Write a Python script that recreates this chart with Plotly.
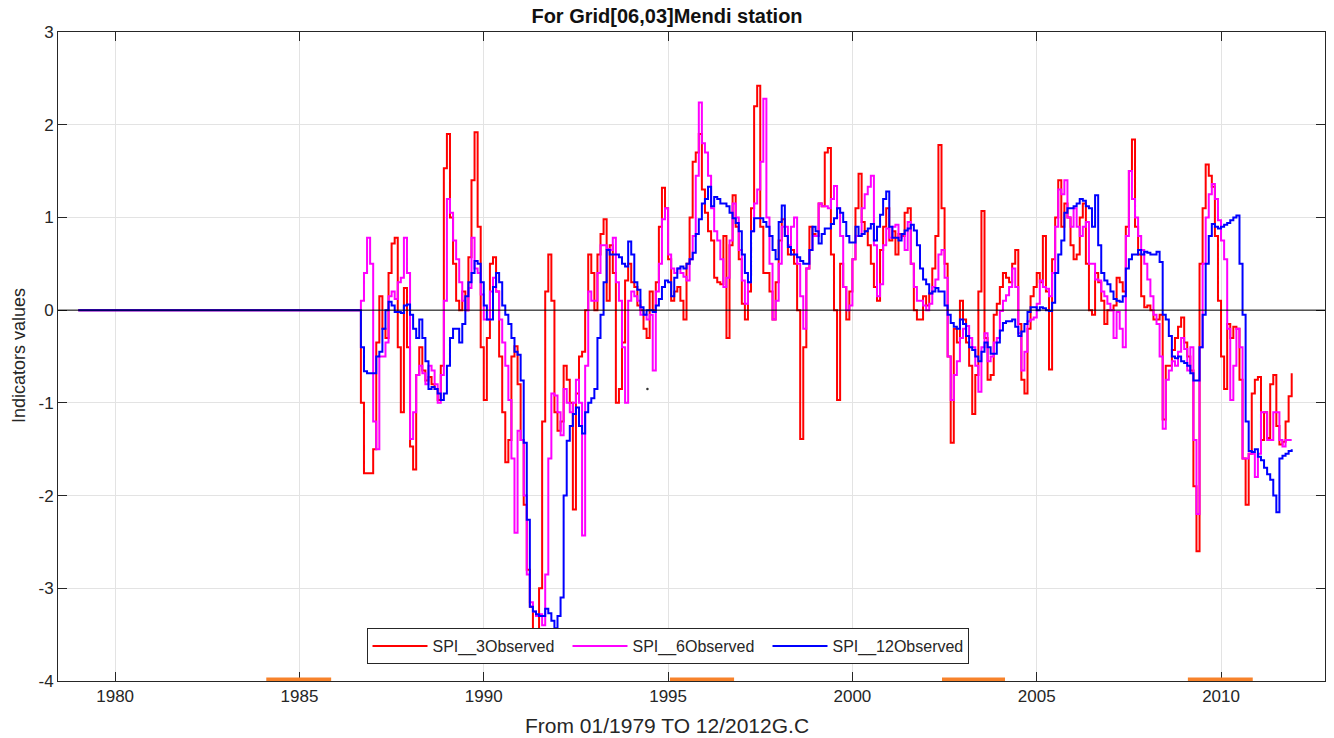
import plotly.graph_objects as go

# Monthly SPI series, Jan 1979 .. Dec 2011. The station record is flat (0)
# until Aug 1986; the lists below hold Sep 1986 onwards, one row per year.
FIRST_YEAR = 1979
FLAT_MONTHS = 92  # Jan 1979 .. Aug 1986

spi3 = [
    -1.0, -1.76, -1.76, -1.76,                                             # 1986 Sep-Dec
    -1.5, -0.35, 0.15, -0.2, -0.3, 0.4, 0.72, 0.78, -0.4, -1.1, 0.24, -0.4,      # 1987
    -1.47, -1.72, -0.7, -0.4, -0.65, -0.76, -0.72, -0.8, -0.85, -0.97, -0.6, 1.53,  # 1988
    1.9, 1.0, 0.5, 0.1, 0.0, 0.2, 0.0, 0.57, 1.4, 1.92, 0.9, -0.4,               # 1989
    -0.97, -0.3, 0.5, 0.57, 0.2, -0.5, -1.1, -1.64, -1.4, -0.5, -0.39, -0.8,     # 1990
    -1.4, -2.1, -2.8, -3.2, -3.5, -3.8, -3.0, -1.2, 0.2, 0.6, 0.1, -1.1,         # 1991
    -1.3, -1.2, -0.6, -0.75, -1.0, -2.15, -0.9, -0.5, -0.45, 0.0, 0.6, 0.4,      # 1992
    0.0, 0.6, 0.82, 0.98, 0.1, 0.7, 0.4, -1.0, -0.85, -0.35, 0.32, 0.5,          # 1993
    0.3, 0.25, 0.05, 0.0, -0.2, -0.3, 0.2, 0.0, 0.3, 0.9, 1.32, 1.1,             # 1994
    0.55, 0.1, 0.2, 0.25, 0.1, -0.1, 0.5, 1.0, 1.6, 1.7, 1.9, 1.3,               # 1995
    1.05, 0.85, 0.75, 0.35, 0.3, 0.28, 0.8, -0.3, 0.7, 1.24, 0.9, 0.55,          # 1996
    0.07, -0.1, 0.2, 1.1, 2.2, 2.42, 0.9, 0.4, 0.4, 0.2, -0.1, 0.3,              # 1997
    0.75, 0.98, 0.8, 0.6, 0.65, 0.5, 0.0, -1.39, -0.4, 0.45, 0.9, 0.82,          # 1998
    0.8, 1.15, 1.12, 1.7, 1.75, 0.6, 0.0, -0.97, 0.5, 0.25, -0.1, 0.2,           # 1999
    0.55, 1.1, 1.47, 0.95, 0.85, 0.7, 0.5, 0.25, 0.1, 0.65, 0.9, 1.1,            # 2000
    0.75, 0.85, 0.6, 0.82, 0.8, 1.05, 1.1, 0.5, 0.0, -0.1, -0.1, 0.15,           # 2001
    0.05, 0.18, 0.45, 0.8, 1.78, 1.1, 0.5, -0.5, -1.43, -0.2, -0.35, 0.1,        # 2002
    -0.1, -0.35, -0.6, -1.12, -0.7, 0.2, 1.07, -0.3, -0.75, -0.7, -0.05, 0.07,   # 2003
    0.25, 0.4, 0.35, 0.3, 0.5, 0.65, -0.15, -0.75, -0.9, -0.2, 0.15, 0.25,       # 2004
    0.4, 0.3, 0.8, 0.2, -0.64, 0.55, 1.0, 1.4, 0.9, 1.15, 1.0, 0.7,             # 2005
    0.55, 0.6, 1.0, 1.15, 0.5, 0.0, -0.05, 0.4, 0.3, 0.1, -0.15, 0.0,            # 2006
    0.0, 0.05, 0.35, 0.3, 0.2, 0.9, 1.5, 1.84, 0.9, 0.6, 0.15, 0.03,             # 2007
    0.05, 0.0, -0.1, -0.1, -0.05, -1.18, -0.6, -0.6, -0.43, -0.3, -0.18, -0.08,  # 2008
    -0.35, -0.5, -0.65, -1.9, -2.6, 0.5, 1.1, 1.57, 1.45, 1.33, 0.8, 0.1,        # 2009
    -0.5, -0.85, -0.15, -0.3, -0.18, -0.2, -0.75, -1.6, -2.1, -1.55, -0.9, -0.75,  # 2010
    -0.72, -1.4, -1.1, -1.38, -0.8, -0.7, -1.25, -1.45, -1.42, -1.2, -0.93, -0.68,  # 2011
]

spi6 = [
    0.1, 0.4, 0.78, 0.5,                                                   # 1986 Sep-Dec
    -1.2, -1.5, -0.5, -0.5, -0.35, 0.15, 0.2, 0.12, 0.3, 0.35, 0.78, 0.4,        # 1987
    -1.39, -1.1, -0.7, -0.6, -0.68, -0.8, -0.6, -0.65, -0.8, -1.0, -0.7, 0.1,    # 1988
    1.2, 1.05, 0.75, 0.55, 0.3, 0.1, 0.0, 0.24, 0.78, 0.45, 0.4, 0.17,           # 1989
    -0.1, -0.1, 0.2, 0.35, 0.2, -0.1, -0.35, -0.6, -0.97, -1.6, -2.4, -1.3,      # 1990
    -1.4, -2.0, -2.85, -3.15, -3.25, -3.3, -3.28, -3.4, -2.85, -1.6, -0.9, -0.92,  # 1991
    -1.1, -1.35, -0.85, -1.0, -1.1, -1.0, -0.75, -1.0, -2.43, -0.6, 0.2, 0.1,    # 1992
    0.1, 0.4, 0.7, 0.7, 0.66, 0.65, 0.78, 0.3, 0.1, -0.4, -1.0, 0.1,             # 1993
    0.2, 0.15, 0.1, -0.05, -0.05, -0.1, -0.05, -0.65, 0.2, 0.5, 0.98, 1.1,       # 1994
    0.6, 0.45, 0.4, 0.45, 0.4, 0.36, 0.32, 0.55, 0.8, 1.45, 2.24, 1.8,           # 1995
    1.7, 1.45, 1.1, 0.85, 0.75, 0.55, 0.25, 0.35, 0.75, 1.15, 1.0, 0.65,         # 1996
    0.32, 0.07, 0.3, 0.85, 1.15, 1.3, 1.6, 2.28, 1.0, 0.5, -0.1, 0.1,            # 1997
    0.5, 0.9, 0.9, 0.7, 0.9, 1.0, 0.5, 0.15, -0.2, 0.45, 0.65, 0.8,              # 1998
    0.8, 1.15, 1.12, 1.12, 1.1, 1.2, 1.34, 1.1, 0.8, 0.25, 0.0, 0.05,            # 1999
    0.55, 0.8, 0.8, 1.1, 1.25, 1.33, 1.45, 0.7, 0.15, 0.28, 0.7, 0.88,           # 2000
    0.78, 0.9, 0.92, 0.78, 0.82, 0.65, 0.95, 0.5, 0.25, 0.1, 0.1, 0.05,          # 2001
    0.0, 0.07, 0.25, 0.33, 0.6, 0.65, 0.35, -0.5, -0.97, -0.7, -0.55, -0.3,      # 2002
    -0.2, -0.17, -0.3, -0.4, -0.6, -0.88, -0.4, -0.25, -0.55, -0.5, -0.35, -0.3,  # 2003
    -0.01, 0.1, 0.16, 0.25, 0.45, 0.25, -0.25, -0.65, -0.45, -0.12, -0.1, -0.08,  # 2004
    0.07, 0.32, 0.25, 0.23, 0.15, 0.4, 0.9, 1.3, 1.25, 1.4, 1.0, 0.9,            # 2005
    1.1, 0.9, 0.8, 0.9, 0.95, 0.5, 0.5, 0.33, 0.32, 0.2, 0.15, 0.07,             # 2006
    0.0, -0.3, -0.02, -0.2, -0.4, 0.8, 1.5, 1.2, 1.0, 0.8, 0.65, 0.5,            # 2007
    0.33, 0.15, -0.05, -0.15, -0.5, -1.28, -0.75, -0.65, -0.55, -0.6, -0.45, -0.3,  # 2008
    -0.42, -0.65, -0.4, -1.4, -2.2, -0.4, 0.5, 1.0, 1.25, 1.36, 1.2, 0.97,       # 2009
    0.75, 0.55, -0.2, -0.97, -0.6, -0.2, -0.4, -1.6, -1.6, -1.55, -1.55, -1.8,   # 2010
    -1.55, -1.1, -1.1, -1.4, -1.4, -1.1, -1.1, -1.4, -1.47, -1.4, -1.4, -1.4,    # 2011
]

spi12 = [
    -0.4, -0.66, -0.68, -0.68,                                             # 1986 Sep-Dec
    -0.68, -0.5, -0.45, -0.2, 0.0, 0.09, 0.05, -0.02, -0.02, -0.03, 0.05, 0.06,  # 1987
    -0.05, -0.2, -0.3, -0.1, -0.3, -0.55, -0.85, -0.83, -0.85, -0.9, -0.97, -0.9,  # 1988
    -0.6, -0.3, -0.2, -0.2, -0.35, -0.15, 0.15, 0.3, 0.4, 0.53, 0.5, 0.3,        # 1989
    0.05, -0.1, -0.1, 0.25, 0.4, 0.3, 0.05, -0.05, -0.15, -0.3, -0.45, -0.48,    # 1990
    -0.76, -1.43, -2.26, -3.2, -3.25, -3.28, -3.3, -3.3, -3.22, -3.27, -3.35, -3.43,  # 1991
    -3.3, -3.1, -2.0, -1.41, -1.25, -1.12, -1.05, -1.25, -1.33, -1.1, -1.0, -0.95,  # 1992
    -0.85, -0.3, -0.05, 0.3, 0.65, 0.6, 0.6, 0.6, 0.57, 0.5, 0.47, 0.74,         # 1993
    0.6, 0.3, 0.22, 0.03, -0.05, 0.0, 0.0, -0.02, 0.05, 0.12, 0.25, 0.32,        # 1994
    0.3, 0.15, 0.35, 0.45, 0.47, 0.45, 0.5, 0.55, 0.62, 0.82, 0.98, 1.15,        # 1995
    1.2, 1.33, 1.12, 1.22, 1.2, 1.15, 1.15, 1.12, 1.05, 0.99, 0.94, 0.85,        # 1996
    0.6, 0.4, 0.3, 0.85, 0.99, 0.99, 0.99, 0.95, 0.9, 0.8, 0.65, 0.55,           # 1997
    0.95, 1.13, 0.8, 0.68, 0.6, 0.6, 0.57, 0.53, 0.5, 0.5, 0.65, 0.9,            # 1998
    0.85, 0.72, 0.82, 0.88, 0.88, 0.93, 0.99, 1.1, 1.05, 0.95, 0.8, 0.73,        # 1999
    0.73, 0.9, 0.8, 0.82, 0.85, 0.88, 0.93, 0.75, 0.9, 1.03, 1.2, 1.28,          # 2000
    0.9, 0.78, 0.78, 0.75, 0.82, 0.86, 0.88, 0.92, 0.86, 0.7, 0.45, 0.33,        # 2001
    0.28, 0.18, 0.2, 0.24, 0.2, 0.2, 0.05, -0.05, -0.14, -0.18, -0.2, -0.1,      # 2002
    -0.15, -0.28, -0.4, -0.43, -0.5, -0.55, -0.45, -0.35, -0.4, -0.47, -0.47, -0.35,  # 2003
    -0.22, -0.14, -0.12, -0.12, -0.1, -0.18, -0.28, -0.23, -0.15, -0.02, 0.03, 0.03,  # 2004
    0.0, 0.03, 0.02, 0.0, -0.01, 0.08, 0.4, 0.6, 0.75, 1.05, 1.1, 1.1,           # 2005
    1.12, 1.15, 1.2, 1.18, 1.12, 1.1, 0.9, 1.24, 0.7, 0.4, 0.32, 0.28,           # 2006
    0.2, 0.12, 0.1, 0.09, 0.15, 0.45, 0.55, 0.6, 0.6, 0.65, 0.6, 0.63,           # 2007
    0.62, 0.6, 0.6, 0.63, 0.52, -0.05, -0.1, -0.28, -0.5, -0.52, -0.5, -0.55,    # 2008
    -0.57, -0.6, -0.68, -0.76, -0.76, -0.4, -0.05, 0.5, 0.8, 0.93, 0.9, 0.88,    # 2009
    0.9, 0.92, 0.94, 0.97, 1.0, 1.02, 0.5, -0.05, -1.2, -1.52, -1.53, -1.5,      # 2010
    -1.58, -1.62, -1.7, -1.77, -1.83, -2.0, -2.18, -1.6, -1.57, -1.55, -1.52, -1.5,  # 2011
]

# Dry-spell periods marked along the time axis (decimal years)
spell_start = [1984.10, 1995.05, 2002.43, 2009.10]
spell_end = [1985.86, 1996.79, 2004.14, 2010.86]

# Isolated point
stray_x = [1994.44]
stray_y = [-0.85]

x_ticks = [1980, 1985, 1990, 1995, 2000, 2005, 2010]
y_ticks = [-4, -3, -2, -1, 0, 1, 2, 3]

series = [
    ("SPI__3Observed", spi3, "#FF0000"),
    ("SPI__6Observed", spi6, "#FF00FF"),
    ("SPI__12Observed", spi12, "#0000FF"),
]

fig = go.Figure()
for name, vals, color in series:
    full = [0.0] * FLAT_MONTHS + vals
    t = [FIRST_YEAR + i / 12.0 for i in range(len(full))]
    fig.add_trace(go.Scatter(
        x=t, y=full, mode="lines", name=name,
        line=dict(color=color, width=2, shape="hv"),
    ))

sx, sy = [], []
for a, b in zip(spell_start, spell_end):
    sx += [a, b, None]
    sy += [-4, -4, None]
fig.add_trace(go.Scatter(
    x=sx, y=sy, mode="lines", showlegend=False, cliponaxis=False,
    line=dict(color="#F7822B", width=7),
))
fig.add_trace(go.Scatter(
    x=stray_x, y=stray_y, mode="markers", showlegend=False,
    marker=dict(color="#333333", size=2.5),
))

AX = "#262626"
FONT = "Liberation Sans, Arial, Helvetica, sans-serif"

# plot area in pixels
L, R, T, B = 58, 1325, 32, 681
W, H = 1334, 738
pw, ph = R - L, B - T

fig.add_shape(type="line", xref="paper", yref="y", x0=0, x1=1, y0=0, y1=0,
              line=dict(color="black", width=1), layer="above")

# axis titles, centred on the page like the figure title
fig.add_annotation(text="From 01/1979 TO 12/2012G.C", xref="paper", yref="paper",
                   x=(667 - L) / pw, y=(B - 725) / ph, xanchor="center", yanchor="middle",
                   showarrow=False, font=dict(size=21, color=AX))
fig.add_annotation(text="Indicators values", xref="paper", yref="paper",
                   x=(19 - L) / pw, y=(B - 356) / ph, xanchor="center", yanchor="middle",
                   textangle=-90, showarrow=False, font=dict(size=18, color=AX))

fig.update_layout(
    width=W, height=H,
    margin=dict(l=L, r=W - R, t=T, b=H - B),
    paper_bgcolor="white", plot_bgcolor="white",
    font=dict(family=FONT, color=AX),
    title=dict(text="<b>For Grid[06,03]Mendi station</b>", x=0.5, xref="container",
               y=1 - 16 / H, yanchor="middle", xanchor="center",
               font=dict(size=20, color="#111111")),
    xaxis=dict(
        range=[1978.45, 2012.82], tickvals=x_ticks, ticktext=[str(v) for v in x_ticks],
        showgrid=True, gridcolor="#e3e3e3", gridwidth=1,
        showline=True, linecolor=AX, linewidth=1, mirror="ticks",
        ticks="inside", ticklen=9, tickcolor=AX, zeroline=False,
        tickfont=dict(size=17, color=AX), layer="below traces",
    ),
    yaxis=dict(
        range=[-4, 3], tickvals=y_ticks, ticktext=[str(v) for v in y_ticks],
        showgrid=True, gridcolor="#e3e3e3", gridwidth=1,
        showline=True, linecolor=AX, linewidth=1, mirror="ticks",
        ticks="inside", ticklen=9, tickcolor=AX, zeroline=False,
        tickfont=dict(size=17, color=AX),
    ),
    legend=dict(
        orientation="h", x=(667.5 - L) / pw, xanchor="center",
        y=(B - 664) / ph, yanchor="bottom",
        bgcolor="white", bordercolor=AX, borderwidth=1,
        font=dict(size=16, color=AX), entrywidth=130, itemwidth=55, tracegroupgap=0,
    ),
)

fig.write_html("out.html")
